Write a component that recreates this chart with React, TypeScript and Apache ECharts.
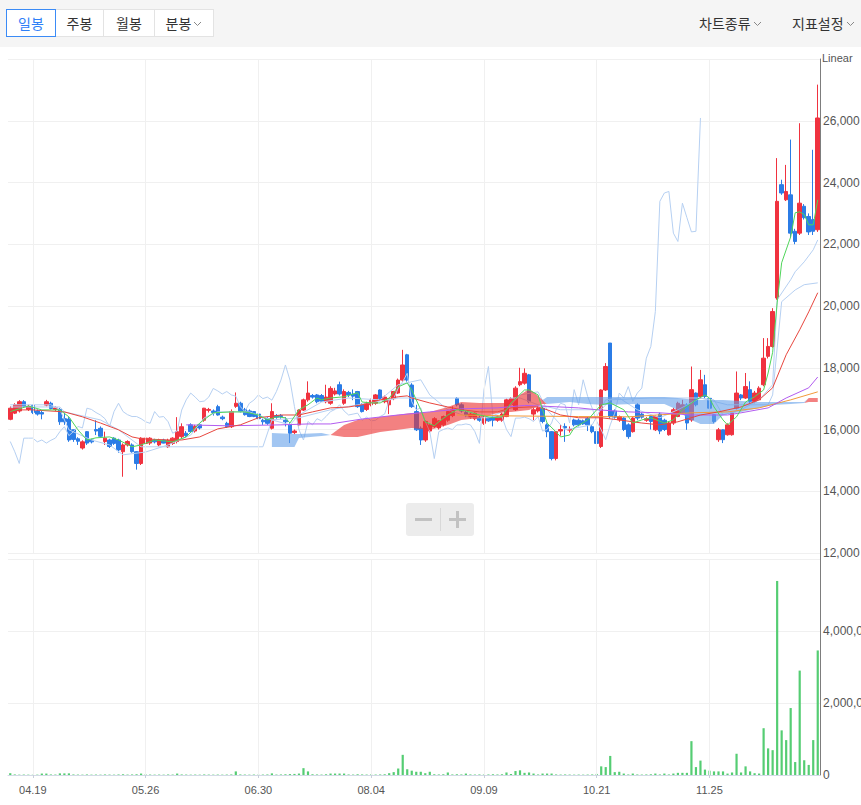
import React, { useEffect, useRef } from 'react';
import * as echarts from 'echarts';

// ---------- DATA ----------
const dateLabels = ['04.19', '05.26', '06.30', '08.04', '09.09', '10.21', '11.25'];
const dateLabelIndex = [5, 30, 55, 80, 105, 130, 155];

// [open, close, low, high]
const candles: number[][] = [
  [16330,16690,16300,16750],[16530,16800,16500,16850],[16600,16900,16550,16950],[16900,16750,16700,16950],[16650,16750,16600,16800],
  [16780,16550,16500,16800],[16600,16500,16450,16650],[16550,16500,16330,16600],[16790,16900,16750,16960],[16850,16680,16650,16900],
  [16650,16700,16600,16750],[16650,16250,16150,16700],[16350,16250,16150,16550],[16340,15660,15600,16400],[15990,15680,15600,16000],
  [15700,15620,15500,15750],[15400,15600,15350,15650],[15930,15560,15500,15950],[15660,15600,15550,15700],[16000,15950,15820,16300],
  [16040,15780,15750,16100],[15610,15720,15500,15930],[15660,15450,15400,15700],[15720,15550,15500,15750],[15660,15340,15250,15700],
  [15280,15500,14470,15550],[15500,15610,15450,15650],[15500,15280,15250,15550],[15280,14900,14700,15300],[14900,15720,14850,15750],
  [15550,15720,15500,15800],[15560,15720,15500,15750],[15660,15600,15550,15700],[15500,15660,15450,15700],[15660,15560,15550,15700],
  [15440,15650,15400,15700],[15550,15720,15500,15750],[15610,15930,15550,16400],[15770,16090,15700,16200],[15880,15800,15750,15950],
  [16150,15930,15900,16200],[15950,16100,15900,16150],[16150,16050,16000,16200],[16300,16690,16250,16700],[16620,16650,16550,16700],
  [16600,16550,16450,16650],[16740,16470,16450,16800],[16400,16350,16300,16450],[16200,16090,16050,16250],[16090,16580,16050,16650],
  [16750,16850,16700,17200],[16850,16580,16550,16900],[16650,16480,16450,16700],[16600,16420,16400,16650],[16580,16420,16400,16600],
  [16500,16350,16300,16550],[16300,16250,16150,16350],[16350,16200,16150,16400],[16040,16580,16000,16850],[16450,16400,16350,16500],
  [16450,16420,16350,16500],[16300,16250,16100,16400],[16150,15880,15560,16200],[15900,15950,15850,16000],[16150,16630,16100,16650],
  [16630,16960,16600,17000],[16960,17180,16900,17560],[17100,17050,17000,17150],[17120,16900,16850,17150],[17100,16920,16900,17150],
  [16900,17050,16850,17450],[16850,17330,16800,17400],[17150,17250,17100,17350],[17450,17150,17100,17550],[16850,17230,16800,17300],
  [17200,17120,17050,17250],[17150,17080,16950,17300],[17230,16740,16700,17250],[16800,16580,16550,16850],[16650,16850,16600,16900],
  [16800,16950,16750,17000],[16850,17120,16800,17150],[17280,17000,16950,17300],[16900,17050,16850,17100],[16800,16950,16500,17000],
  [17000,17230,16950,17250],[17180,17600,17150,17650],[17600,18090,17550,18580],[18420,17600,17550,18450],[17440,16740,16700,17500],
  [16580,15990,15950,16800],[16040,15660,15500,16100],[15660,16260,15600,16300],[15950,16150,15900,16200],[16100,16350,16050,16400],
  [16050,16280,16000,16300],[16150,16420,16100,16450],[16300,16580,16250,16600],[16450,16650,16400,16750],[17010,16800,16750,17050],
  [16800,16600,16550,16850],[16550,16470,16400,16600],[16420,16500,16350,16550],[16350,16530,16300,16550],[16380,16300,16250,16450],
  [16200,16400,16150,16450],[16380,16280,16250,16400],[16420,16300,16100,16450],[16300,16420,16250,16450],[16300,16500,16250,16550],
  [16420,16960,16400,17000],[16800,17000,16750,17050],[16640,17340,16600,17400],[17450,17550,17400,18000],[17500,17820,17450,17980],
  [17770,16900,16850,17800],[16500,16640,16300,16700],[16600,16700,16550,16750],[16690,16260,16200,16750],[16150,15930,15750,16200],
  [15930,15060,15000,15950],[15060,15930,15000,15950],[15950,16000,15800,16150],[16100,16050,15600,16200],[15980,16000,15900,16100],
  [16310,16150,16100,16350],[16300,16150,16100,16350],[16280,16180,16150,16320],[16350,16150,15950,16400],[16090,15930,15880,16150],
  [15930,15550,15500,15950],[15450,17280,15400,17300],[17280,18040,17250,18150],[18800,16420,16350,18800],[16600,16400,16350,16650],
  [16310,16420,16250,16450],[16370,16000,15950,16400],[16150,15770,15700,16200],[15930,16370,15900,16400],[16800,16370,16300,16850],
  [16500,16400,16350,16550],[16300,16350,16250,16400],[16420,16260,16000,16450],[15990,16420,15950,16450],[16500,15950,15850,16550],
  [16300,16000,15950,16350],[15830,16210,15800,16250],[16210,16640,16150,16700],[16420,16850,16400,16900],[16530,16800,16500,16960],
  [16800,16210,15990,16850],[16310,17290,16250,18040],[17180,16800,16750,17200],[17070,17610,17000,17930],[17450,17070,17000,17770],
  [17010,16690,16650,17050],[16480,16260,16200,16500],[15670,15990,15600,16050],[15990,15670,15560,16000],[15830,16150,15800,16200],
  [15830,16530,15800,16550],[16690,17180,16650,17880],[17120,17020,16950,17150],[17020,17390,16990,17830],[17290,16910,16850,17560],
  [16910,17180,16850,17250],[16960,17340,16950,17400],[17450,18310,17400,18960],[18370,18690,18300,18960],[18690,19820,18650,19930],
  [20260,23390,20200,24790],[23930,23660,23600,24090],[23440,23710,23400,24570],[23600,22360,22200,25390],[22420,22090,22000,22500],
  [22360,23330,22300,25920],[23230,22860,22800,23300],[22900,22400,22300,23000],[22800,22420,22300,25060],[22470,26090,22400,27170],
];

const volumes = [
  50000,15000,10000,12000,10000,8000,10000,40000,40000,15000,
  12000,45000,45000,45000,15000,12000,10000,15000,10000,12000,
  10000,15000,12000,10000,15000,20000,12000,15000,20000,40000,
  15000,12000,10000,12000,10000,15000,12000,40000,15000,12000,
  10000,12000,10000,15000,12000,10000,12000,10000,12000,15000,
  100000,15000,12000,10000,12000,10000,12000,15000,45000,12000,
  15000,20000,25000,30000,40000,190000,100000,20000,15000,12000,
  20000,40000,40000,40000,40000,15000,12000,20000,15000,12000,
  15000,12000,15000,20000,50000,80000,180000,560000,160000,120000,
  90000,90000,50000,90000,20000,15000,20000,70000,15000,20000,
  15000,40000,15000,12000,15000,12000,15000,20000,15000,20000,
  70000,25000,110000,130000,60000,70000,40000,15000,40000,40000,
  40000,15000,12000,15000,12000,10000,12000,10000,12000,15000,
  30000,240000,220000,530000,80000,90000,40000,15000,40000,15000,
  12000,15000,20000,40000,15000,40000,15000,40000,60000,60000,
  60000,940000,220000,400000,150000,120000,100000,100000,100000,40000,
  70000,590000,70000,240000,100000,50000,40000,1300000,740000,690000,
  5390000,1240000,970000,1860000,360000,2900000,410000,280000,970000,3460000,
];

// indicator lines: [category index, price]
const ma5 = [[0,16580],[4,16760],[7,16635],[11,16635],[13,16410],[15,15990],[17,15660],[19,15730],[22,15760],[24,15660],[27,15440],[29,15500],[32,15660],[36,15600],[39,15760],[42,16210],[45,16540],[49,16570],[52,16570],[55,16470],[57,16310],[59,16410],[61,16380],[62,16210],[64,16640],[66,16800],[68,17020],[69,16960],[71,17020],[74,17060],[77,17190],[78,16890],[80,16860],[82,16860],[84,17020],[86,17380],[88,17510],[89,17280],[91,16640],[92,16250],[94,16120],[95,16250],[97,16470],[99,16640],[101,16600],[104,16470],[107,16380],[109,16410],[111,16860],[114,17280],[115,17280],[117,17120],[118,16640],[119,16210],[121,15920],[122,15760],[124,15820],[125,16050],[128,16310],[130,16640],[131,16800],[133,16860],[136,16640],[138,16210],[140,16310],[142,16380],[145,16210],[147,16310],[149,16640],[152,16960],[154,17120],[155,17020],[156,16730],[158,16310],[159,16150],[161,16410],[163,16890],[165,17060],[167,17280],[168,17830],[169,18500],[170,20100],[171,21400],[173,22240],[174,23020],[175,23050],[176,22960],[177,22630],[178,22630],[179,23440]];
const ma20 = [[0,16635],[5,16635],[12,16570],[16,16410],[20,16210],[24,15990],[27,15760],[29,15700],[35,15660],[38,15660],[42,15760],[46,16020],[51,16150],[55,16380],[60,16470],[64,16470],[67,16570],[71,16700],[75,16730],[78,16800],[82,16960],[86,17060],[88,17090],[89,17020],[93,16860],[97,16730],[100,16640],[104,16570],[108,16570],[111,16700],[115,16730],[117,16730],[119,16640],[122,16470],[126,16380],[131,16380],[135,16310],[140,16210],[144,16150],[148,16250],[153,16470],[157,16570],[162,16730],[166,16960],[169,17350],[172,18420],[175,19230],[177,19810],[179,20430]];
const ma60 = [[39,16150],[48,16120],[60,16150],[66,16180],[71,16180],[78,16340],[86,16470],[93,16570],[100,16670],[108,16700],[114,16780],[119,16750],[126,16700],[130,16640],[137,16570],[144,16540],[151,16470],[159,16470],[162,16540],[168,16700],[172,17020],[177,17350],[179,17700]];
const ma120 = [[99,16470],[111,16440],[126,16420],[137,16410],[151,16540],[159,16570],[166,16700],[173,16960],[179,17220]];
const baseLine = [[0,16730],[11,16730],[12,16570],[20,16310],[24,15990],[29,15440],[56,15440],[58,16310],[64,16380],[71,16640],[77,16800],[86,17020],[113,17020],[117,16800],[122,16640],[131,16640],[133,16960],[142,17020],[153,17020],[159,16800],[168,16800],[169,17120],[171,20140],[174,20520],[176,20690],[179,20750]];
const convLine = [[0,16800],[9,16800],[11,16640],[13,15990],[18,15660],[22,15500],[25,15180],[30,15270],[35,15500],[40,15820],[43,16380],[46,16570],[53,16570],[58,16310],[62,16150],[64,16470],[69,16890],[75,17020],[82,16960],[86,17450],[91,17610],[93,17120],[97,16640],[102,16380],[106,16380],[110,16640],[113,17120],[117,17220],[119,16640],[123,15990],[129,16150],[132,16960],[135,17020],[139,16640],[144,16380],[148,16640],[153,17020],[156,16960],[158,16470],[162,16640],[166,16960],[169,17450],[170,20200],[173,20850],[174,21110],[176,21430],[178,21820],[179,22140]];
const cloudIdx = [58,63,64,69,71,74,77,82,89,93,97,100,104,108,111,113,115,116,118,119,124,128,132,138,145,148,150,153,156,158,162,166,169,173,176,177,179];
const spanA = [15435,15435,15727,15792,15824,16149,16311,16408,16537,16570,16732,16894,16862,16862,16862,17121,17315,17218,16959,16829,16894,16829,16797,16829,16829,16635,16375,16181,16181,16473,16570,16700,16797,16829,16862,17024,17024];
const spanB = [15889,15857,15857,15889,15824,15760,15760,15922,16051,15986,16149,16311,16375,16537,16570,16602,16635,16700,16829,17056,17056,17056,17056,17056,17056,17024,16991,16959,16959,16959,16926,16894,16894,16894,16894,16894,16894];
const lagShift = 26;

// ---------- derived tables ----------
const categories = candles.map((_, i) => {
  const k = dateLabelIndex.indexOf(i);
  return k >= 0 ? dateLabels[k] : 'd' + i;
});
const isLabel = (i: number) => dateLabelIndex.indexOf(i) >= 0;
const lagSpan = candles.slice(lagShift).map((c, k) => [k, c[1]]);
// stacked cloud: lower edge, then red thickness (A above B), then blue thickness (B above A)
const cloudLow = cloudIdx.map((i, k) => [i, Math.min(spanA[k], spanB[k])]);
const cloudRed = cloudIdx.map((i, k) => [i, Math.max(spanA[k] - spanB[k], 0)]);
const cloudBlue = cloudIdx.map((i, k) => [i, Math.max(spanB[k] - spanA[k], 0)]);

const RED = '#f0323f';
const BLUE = '#2b7ce6';
const LIGHTBLUE = '#b6d0f2';
const GRID = '#f0f0f0';
const FONT = '"Liberation Sans", Arial, sans-serif';
const CLOUD_RED = 'rgba(236,52,52,0.62)';
const CLOUD_BLUE = 'rgba(100,160,234,0.6)';

const line = (data: number[][], color: string, z = 5, width = 1) => ({
  type: 'line', xAxisIndex: 0, yAxisIndex: 0, data, symbol: 'none', showSymbol: false,
  lineStyle: { color, width }, z, silent: true,
});

const cloudPart = (data: number[][], fill: string | null) => ({
  type: 'line', xAxisIndex: 0, yAxisIndex: 0, data, stack: 'cloud', symbol: 'none', showSymbol: false,
  lineStyle: { width: 0, opacity: 0 }, z: 6, silent: true,
  areaStyle: fill ? { color: fill, opacity: 1 } : undefined,
});

const grids = (xi: number, yi: number) => ({
  type: 'line', xAxisIndex: xi, yAxisIndex: yi, data: categories.map(() => null), z: 0, silent: true,
  markLine: {
    silent: true, symbol: 'none', label: { show: false }, animation: false,
    lineStyle: { color: GRID, type: 'solid', width: 1 },
    data: dateLabelIndex.map((i) => ({ xAxis: i })),
  },
});

function buildOption() {
  return {
    animation: false,
    backgroundColor: '#ffffff',
    textStyle: { fontFamily: FONT },
    grid: [
      { left: 8, right: 41, top: 59, height: 494, containLabel: false, outerBoundsMode: 'none' },
      { left: 8, right: 41, top: 559, height: 216, containLabel: false, outerBoundsMode: 'none' },
    ],
    xAxis: [
      {
        type: 'category', gridIndex: 0, data: categories, boundaryGap: true,
        axisLine: { show: false }, axisTick: { show: false }, axisLabel: { show: false }, splitLine: { show: false },
      },
      {
        type: 'category', gridIndex: 1, data: categories, boundaryGap: true,
        axisLine: { show: true, lineStyle: { color: '#d3dae6' } },
        axisTick: { show: true, alignWithLabel: true, interval: (i: number) => isLabel(i), length: 3, lineStyle: { color: '#c8cfdb' } },
        axisLabel: { interval: (i: number) => isLabel(i), color: '#555', fontSize: 11, margin: 9, fontFamily: FONT },
        splitLine: { show: false },
      },
    ],
    yAxis: [
      {
        type: 'value', gridIndex: 0, position: 'right', min: 12000, max: 28000, interval: 2000,
        axisLine: { show: true, lineStyle: { color: '#7d7d7d', width: 1 } },
        axisTick: { show: false },
        axisLabel: { showMaxLabel: false, color: '#555', fontSize: 12, margin: 3, fontFamily: FONT,
          formatter: (v: number) => v.toLocaleString('en-US') },
        splitLine: { show: true, lineStyle: { color: GRID } },
      },
      {
        type: 'value', gridIndex: 1, position: 'right', min: 0, max: 6000000, interval: 2000000,
        axisLine: { show: true, lineStyle: { color: '#7d7d7d', width: 1 } },
        axisTick: { show: false },
        axisLabel: { showMaxLabel: false, color: '#555', fontSize: 12, margin: 3, fontFamily: FONT,
          formatter: (v: number) => v.toLocaleString('en-US') },
        splitLine: { show: true, lineStyle: { color: GRID } },
      },
    ],
    graphic: [
      { type: 'text', left: 822, top: 52, silent: true, style: { text: 'Linear', fill: '#555', font: '11px ' + FONT } },
      { type: 'line', silent: true, shape: { x1: 820.5, y1: 553, x2: 820.5, y2: 559 }, style: { stroke: '#7d7d7d', lineWidth: 1 } },
      {
        type: 'group', left: 406, top: 503, silent: true,
        children: [
          { type: 'rect', shape: { x: 0, y: 0, width: 68, height: 33, r: 3 }, style: { fill: '#ececec' } },
          { type: 'rect', shape: { x: 9, y: 15, width: 17, height: 3 }, style: { fill: '#c2c2c2' } },
          { type: 'line', shape: { x1: 34.5, y1: 5, x2: 34.5, y2: 28 }, style: { stroke: '#d8d8d8', lineWidth: 1 } },
          { type: 'rect', shape: { x: 43, y: 15, width: 17, height: 3 }, style: { fill: '#c2c2c2' } },
          { type: 'rect', shape: { x: 50, y: 8, width: 3, height: 17 }, style: { fill: '#c2c2c2' } },
        ],
      },
    ],
    series: [
      grids(0, 0),
      grids(1, 1),
      {
        type: 'candlestick', xAxisIndex: 0, yAxisIndex: 0, data: candles, barWidth: 4, z: 2,
        itemStyle: { color: RED, color0: BLUE, borderColor: RED, borderColor0: BLUE, borderWidth: 1 },
      },
      line(lagSpan, LIGHTBLUE, 3),
      line(baseLine, LIGHTBLUE, 3),
      line(convLine, LIGHTBLUE, 3),
      cloudPart(cloudLow, null),
      cloudPart(cloudRed, CLOUD_RED),
      cloudPart(cloudBlue, CLOUD_BLUE),
      line(ma120, '#f39a3a', 7),
      line(ma60, '#b25cf0', 7),
      line(ma20, '#e8463e', 7),
      line(ma5, '#4fd55a', 8),
      {
        type: 'bar', xAxisIndex: 1, yAxisIndex: 1, data: volumes, barWidth: 2.2, z: 2,
        itemStyle: { color: '#55cd73' },
      },
    ],
  };
}

function Chevron() {
  return (
    <svg width="9" height="6" style={{ marginLeft: 2, marginTop: 2 }}>
      <polyline points="1,1 4.5,4.5 8,1" fill="none" stroke="#888" strokeWidth="1" />
    </svg>
  );
}

const tabs = ['일봉', '주봉', '월봉', '분봉'];

export default function App() {
  const ref = useRef<HTMLDivElement>(null);
  useEffect(() => {
    const chart = echarts.init(ref.current as HTMLDivElement, null, { renderer: 'svg' });
    chart.setOption(buildOption() as any);
    return () => chart.dispose();
  }, []);
  const tabW = [50, 49, 52, 60];
  return (
    <div style={{ position: 'fixed', left: 0, top: 0, width: 861, height: 805, background: '#fff', overflow: 'hidden' }}>
      <div ref={ref} style={{ position: 'absolute', left: 0, top: 0, width: 861, height: 805 }} />
      <div style={{ position: 'absolute', left: 0, top: 0, width: 861, height: 47, background: '#f5f5f5',
        fontFamily: '"Noto Sans CJK KR", sans-serif', fontSize: 14, color: '#333' }}>
        <div style={{ position: 'absolute', left: 6, top: 9, height: 28, display: 'flex' }}>
          {tabs.map((t, k) => (
            <div key={t} style={{ boxSizing: 'border-box', width: tabW[k], height: 28, marginLeft: k ? -1 : 0,
              border: '1px solid ' + (k === 0 ? '#3b8bf6' : '#e3e3e3'), background: '#fff',
              color: k === 0 ? '#2f80f7' : '#333', display: 'flex', alignItems: 'center', justifyContent: 'center',
              position: 'relative', zIndex: k === 0 ? 1 : 0 }}>
              {t}{k === 3 && <Chevron />}
            </div>
          ))}
        </div>
        <div style={{ position: 'absolute', left: 699, top: 9, height: 28, display: 'flex', alignItems: 'center' }}>차트종류<Chevron /></div>
        <div style={{ position: 'absolute', left: 792, top: 9, height: 28, display: 'flex', alignItems: 'center' }}>지표설정<Chevron /></div>
      </div>
    </div>
  );
}
